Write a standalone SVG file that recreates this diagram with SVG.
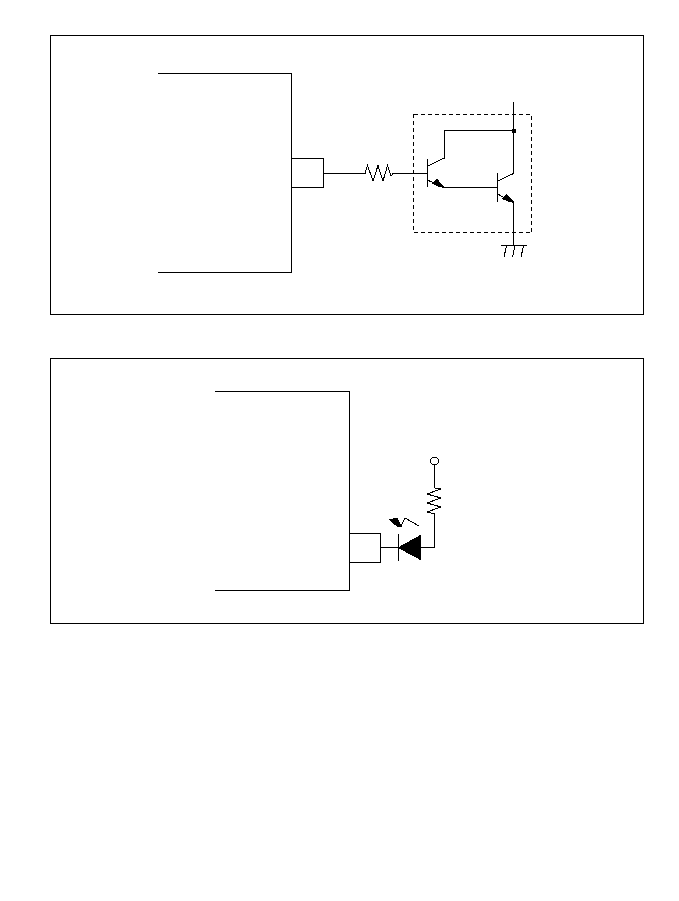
<svg xmlns="http://www.w3.org/2000/svg" width="679" height="901" viewBox="0 0 679 901">
<style>
path,rect,circle{shape-rendering:crispEdges}
.l{fill:none;stroke:#000;stroke-width:1}
.d{fill:none;stroke:#000;stroke-width:1;stroke-dasharray:4 3}
.f{fill:#000;stroke:#000;stroke-width:1}
.b{fill:#fff;stroke:#000;stroke-width:1}
</style>
<rect width="679" height="901" fill="#fff"/>
<g id="panel-top"><rect class="l" x="50.500" y="35.500" width="593" height="279"/></g>
<g id="panel-bottom"><rect class="l" x="50.500" y="358.500" width="593" height="265"/></g>
<g id="chip-top"><path class="l" d="M158 73.500H291.500V272.500H158"/><rect class="l" x="291.500" y="158.500" width="32" height="29"/></g>
<g id="chip-bottom"><path class="l" d="M215 391.500H349.500V590.500H215"/><rect class="l" x="349.500" y="533.500" width="31" height="29"/></g>
<g id="darlington">
<rect class="d" x="413.500" y="114.500" width="118" height="118"/>
<path class="l" d="M427.500 159V187M427.500 166L444.500 158V130.500H513.500M427.500 180L442 187H497.500M497.500 173V202M497.500 181L513.500 173.500V102M497.500 194L513.500 202.500V245"/>
<path class="f" d="M433 183.500L437 179.500L443 186.500L440 187Z"/>
<path class="f" d="M502.500 198.500L506.500 194.500L513 201.500L510 202Z"/>
<rect x="511.500" y="128.500" width="4" height="4" fill="#000"/>
</g>
<g id="ground"><path class="l" d="M501 245.500H527M506.500 246L504 257M515 246L512.500 257M523.500 246L521 257"/></g>
<g id="resistor-top"><path class="l" d="M365 173.500L367.500 165.500L373 181L378 165.500L383 181L387.500 165.500L391 176L393 173.500"/></g>
<g id="resistor-bottom"><path class="l" d="M434.500 488L441 489L427 494L441 498L427 503L441 507L427 512L434.500 514"/></g>
<g id="terminal"><circle class="b" cx="434.500" cy="461" r="4"/></g>
<g id="led">
<path class="f" d="M398.500 547.700L420.500 535.500V559.500Z"/>
<path class="l" d="M398.500 534V561"/>
<path class="f" d="M389.500 519.500L397 518.500L401 526L397 526Z"/>
<path class="l" d="M401 526L405 518L419 526"/>
</g>
<g id="connectors">
<path class="l" d="M323.500 173.500H365M393 173.500H427.500"/>
<path class="l" d="M434.500 465V488M434.500 514V547.500H420.500M380.500 547.500H398.500"/>
</g>
</svg>
